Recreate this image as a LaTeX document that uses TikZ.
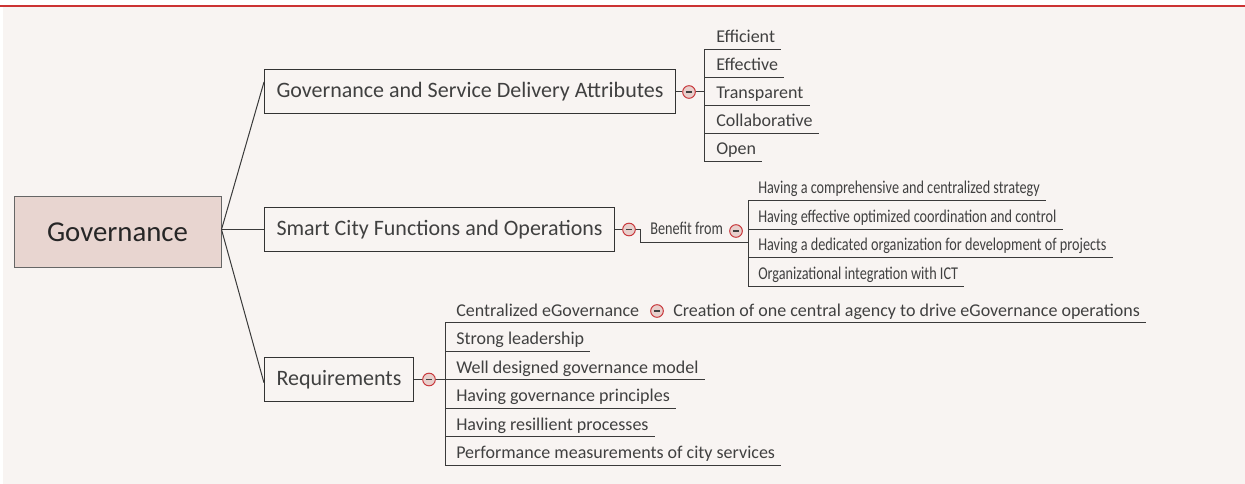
\documentclass[tikz,border=0pt]{standalone}
\usepackage{fontspec}
\setmainfont{Carlito}
\newfontfamily\narrowfont[FakeStretch = 0.79]{Carlito}
\definecolor{bgpaper}{HTML}{F8F4F2}
\definecolor{redline}{HTML}{CC3333}
\definecolor{rootfill}{HTML}{E8D5D0}
\definecolor{rootline}{HTML}{666666}
\definecolor{boxline}{HTML}{333333}
\definecolor{linkgray}{HTML}{3A3A3A}
\definecolor{inktext}{HTML}{404040}
\definecolor{foldred}{HTML}{C8383C}
\definecolor{foldpink}{HTML}{E8CFCC}
\tikzset{
  topic/.style = {draw = boxline, line width = 0.75pt, fill = bgpaper, text = inktext,
    font = \fontsize{16.5}{19}\selectfont, minimum height = 33pt, inner xsep = 9pt, anchor = west},
  leaf/.style = {inner sep = 0pt, anchor = base west, text = inktext, font = \fontsize{13.5}{16}\selectfont},
  narrowleaf/.style = {leaf, font = \narrowfont\fontsize{13.5}{16}\selectfont},
  link/.style = {draw = linkgray, line width = 0.75pt},
  fold/.style = {circle, draw = foldred, fill = foldpink, line width = 0.75pt, minimum size = 9.5pt, inner sep = 0pt,
    path picture = {\draw[line width = 0.9pt, inktext] ([xshift = -2.4pt]path picture bounding box.center)
      -- ([xshift = 2.4pt]path picture bounding box.center);}}
}
\begin{document}
\begin{tikzpicture}[x = 0.75pt, y = -0.75pt]
        \fill[white] (0,0) rectangle (1245,484);
        \useasboundingbox (0,0) rectangle (1245,484);
        \fill[bgpaper] (3,6) rectangle (1245,484);
        \draw[redline, line width = 1.5pt] (0,6) -- (1245,6);

        \node[draw = rootline, fill = rootfill, line width = 0.75pt, minimum width = 155.25pt, minimum height = 53.25pt,
          font = \fontsize{21.6}{25}\selectfont, text = black!85] (gov) at (117.5,232.5) {Governance};

        \node[topic] (attr) at (264,92) {Governance and Service Delivery Attributes};
        \node[topic] (func) at (264,229.5) {Smart City Functions and Operations};
        \node[topic] (req) at (264,379.5) {Requirements};
        \draw[link] (gov.east |- func.west) -- ([yshift = 7.5pt]attr.west);
        \draw[link] (gov.east |- func.west) -- (func.west);
        \draw[link] (gov.east |- func.west) -- ([yshift = -2.5pt]req.west);

        \node[fold] (attrfold) at (689,92) {};
        \draw[link] (attr.east) -- (attrfold.west);
        \draw[link] (attrfold.east) -- (704,92);
        \draw[link] (704,50) -- (704,162);
        \foreach \txt [count = \i] in {Efficient, Effective, Transparent, Collaborative, Open} {
          \node[leaf] (attr\i) at (716, 15+28*\i) {\txt};
          \draw[link] (704, 22+28*\i) -- ([xshift = 4.5pt]attr\i.east |- 0,22+28*\i);
        }

        \node[fold] (funcfold) at (629,229.5) {};
        \draw[link] (func.east) -- (funcfold.west);
        \node[narrowleaf] (benefit) at (650,235) {Benefit from};
        \node[fold] (benefitfold) at (736,231) {};
        \draw[link] (funcfold.east) -| (640,243) -- (748,243);
        \draw[link] (748,201) -- (748,286.5);
        \foreach \txt [count = \i] in {Having a comprehensive and centralized strategy,
          Having effective optimized coordination and control,
          Having a dedicated organization for development of projects,
          Organizational integration with ICT} {
          \node[narrowleaf] (benefit\i) at (758, 165.5+28.5*\i) {\txt};
          \draw[link] (748, 172.5+28.5*\i) -- ([xshift = 4.5pt]benefit\i.east |- 0,172.5+28.5*\i);
        }

        \node[fold] (reqfold) at (429,379.5) {};
        \draw[link] (req.east) -- (reqfold.west);
        \draw[link] (reqfold.east) -- (445,379.5);
        \draw[link] (445,323) -- (445,465);
        \node[leaf] (req1) at (456,316.5) {Centralized eGovernance};
        \node[fold] (centfold) at (657,311) {};
        \node[leaf] (agency) at (673,316.5) {Creation of one central agency to drive eGovernance operations};
        \draw[link] (445,323) -- ([xshift = 4.5pt]agency.east |- 0,323);
        \foreach \txt [count = \i from 2] in {Strong leadership, Well designed governance model,
          Having governance principles, Having resillient processes,
          Performance measurements of city services} {
          \node[leaf] (req\i) at (456, 288.1+28.4*\i) {\txt};
          \draw[link] (445, 294.6+28.4*\i) -- ([xshift = 4.5pt]req\i.east |- 0,294.6+28.4*\i);
        }
    \end{tikzpicture}
\end{document}
